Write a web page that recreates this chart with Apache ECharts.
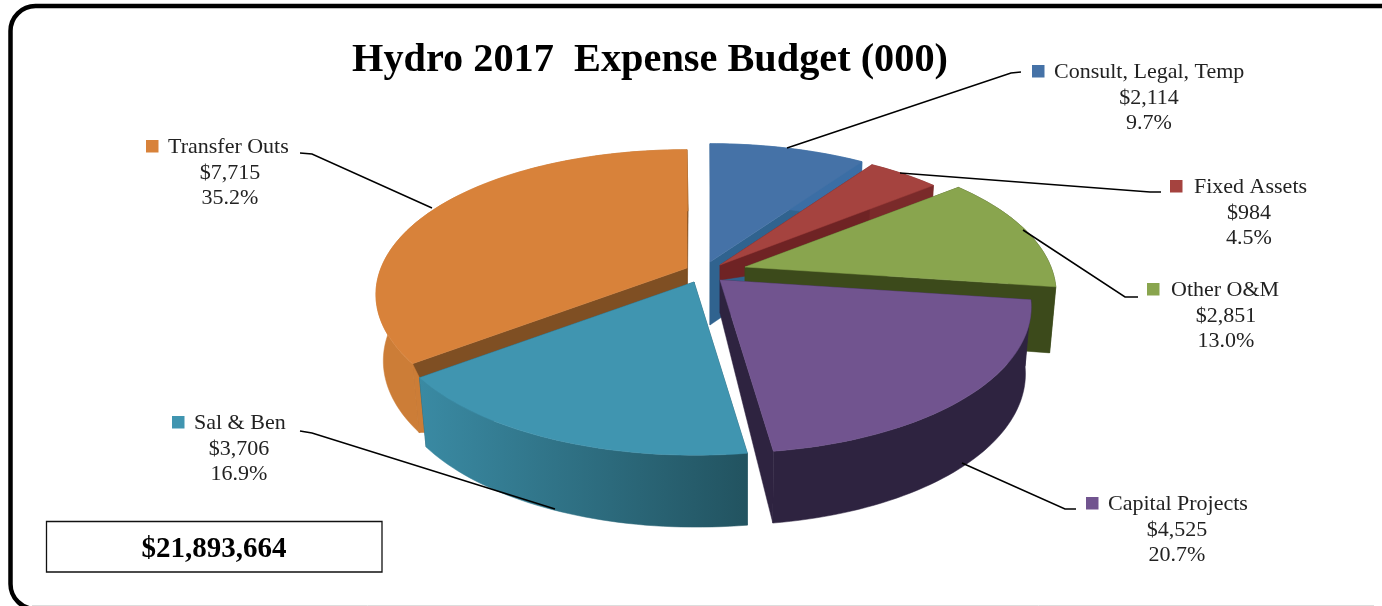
<!DOCTYPE html>
<html>
<head>
<meta charset="utf-8">
<style>html,body{margin:0;padding:0;background:#fff}#c{width:1382px;height:606px}</style>
<script src="https://cdn.jsdelivr.net/npm/echarts@6/dist/echarts.min.js"></script>
</head>
<body>
<div id="c"></div>
<script>
// ---- data ----
var titleText = 'Hydro 2017  Expense Budget (000)';
var totalText = '$21,893,664';
var categories = ['Consult, Legal, Temp', 'Fixed Assets', 'Other O&M', 'Capital Projects', 'Sal & Ben', 'Transfer Outs'];
var values = [2114, 984, 2851, 4525, 3706, 7715];
var percents = ['9.7%', '4.5%', '13.0%', '20.7%', '16.9%', '35.2%'];

// ---- styling & layout ----
var topColors = ['#4572a7', '#a5433f', '#89a54e', '#71548f', '#4095b0', '#d8823a'];
var cutColors = ['#30638f', '#6f2324', '#3c4a1b', '#2e2340', '#245563', '#7f4f23'];
var wallFrom  = ['#3b6ea5', '#7a2a2a', '#3c4a1b', '#2e2340', '#3a8aa3', '#cc7d37'];
var wallTo    = ['#3b6ea5', '#7a2a2a', '#3c4a1b', '#2e2340', '#225360', '#bd7431'];
var apexX = [710, 720, 745, 720, 694, 687];
var apexY = [262, 265, 267, 280, 282, 268];
var apexDrop = [63, 15, 63, 33, 63, 63];
var wallFlare = [0, 0, 0, 0, 0, 10];
var paintOrder = [0, 1, 2, 5, 4, 3];
var markerX = [1032, 1170, 1147, 1086, 172, 146];
var markerY = [65, 180, 283, 497, 416, 140];
var nameX = [1054, 1194, 1171, 1108, 194, 168];
var centerX = [1149, 1249, 1226, 1177, 239, 230];
var leaders = [
  [[787,148],[1011,73],[1021,72]],
  [[900,173],[1150,192],[1161,192]],
  [[1023,230],[1125,297],[1138,297]],
  [[962,463],[1065,509],[1076,509]],
  [[555,509],[312,433],[300,431]],
  [[432,208],[312,154],[300,153]]
];
var serif = '"Liberation Serif", serif';
var total = values.reduce(function (a, b) { return a + b; }, 0);
var startAngles = [];
values.reduce(function (acc, v, i) { startAngles[i] = acc; return acc + v; }, 0);

function rimPoint(i, t) {
  var ux = Math.sin(t), uy = -Math.cos(t), down = Math.max(uy, 0);
  var p = 0.19 - 0.01 * uy;
  return [apexX[i] + 306 * ux / (1 - 0.18 * uy) + 3 * (ux > 0 ? down * down : 0),
          apexY[i] + 142 * uy / (1 - p * uy)];
}
function lower(pt) {
  return [745 + (pt[0] - 745) * 0.98, pt[1] + 66 + (pt[1] - 285) * 0.035];
}
function renderSlice(params, api) {
  var i = api.value(0), v = api.value(1);
  var a0 = startAngles[i] / total * Math.PI * 2;
  var a1 = (startAngles[i] + v) / total * Math.PI * 2;
  var apex = [apexX[i], apexY[i]];
  var apexLow = [apexX[i], apexY[i] + apexDrop[i]];
  var rim = [], n = Math.max(8, Math.round((a1 - a0) * 40));
  for (var k = 0; k <= n; k++) rim.push(rimPoint(i, a0 + (a1 - a0) * k / n));
  var low = rim.map(lower);
  var first = rim[0], last = rim[n], lowFirst = low[0], flare = wallFlare[i];
  var wallFill = new echarts.graphic.LinearGradient(
    Math.min(first[0], last[0]), 0, Math.max(first[0], last[0]), 0,
    [{ offset: 0, color: wallFrom[i] }, { offset: 1, color: wallTo[i] }], true);
  function poly(points, fill) {
    return { type: 'polygon', shape: { points: points }, style: { fill: fill, stroke: fill, lineWidth: 0.5 } };
  }
  var kids = [
    poly([apex, first, lowFirst, apexLow], cutColors[i]),
    poly([apex, last, low[n], apexLow], cutColors[i]),
    poly(rim.concat(low.slice().reverse()), wallFill)
  ];
  if (flare) {
    kids.push(poly([first, [first[0] + flare, first[1] + 2 * flare], [lowFirst[0] + flare, lowFirst[1]], lowFirst], wallFrom[i]));
  }
  kids.push(poly([apex].concat(rim), topColors[i]));
  return { type: 'group', children: kids };
}

var graphics = [
  { type: 'rect', silent: true, z: 1, shape: { x: 10.5, y: 6, width: 1395, height: 603, r: 25 },
    style: { fill: '#fff', stroke: '#000', lineWidth: 4.5 } },
  { type: 'line', silent: true, z: 2, shape: { x1: 32, y1: 605.5, x2: 1374, y2: 605.5 },
    style: { stroke: '#dddddd', lineWidth: 1 } },
  { type: 'rect', silent: true, z: 20, shape: { x: 46.5, y: 521.5, width: 335.5, height: 50.5 },
    style: { fill: '#fff', stroke: '#111', lineWidth: 1.3 } },
  { type: 'text', silent: true, z: 21, x: 214, y: 549.5,
    style: { text: totalText, fill: '#000', font: 'bold 29px ' + serif, align: 'center', verticalAlign: 'middle' } }
];
categories.forEach(function (name, i) {
  graphics.push({ type: 'polyline', silent: true, z: 15, shape: { points: leaders[i] },
    style: { fill: 'none', stroke: '#000', lineWidth: 1.5 } });
  graphics.push({ type: 'rect', silent: true, z: 20, shape: { x: markerX[i], y: markerY[i], width: 12.5, height: 12.5 },
    style: { fill: topColors[i] } });
  graphics.push({ type: 'text', silent: true, z: 21, x: nameX[i], y: markerY[i] + 7.5,
    style: { text: name, fill: '#222', font: '22px ' + serif, align: 'left', verticalAlign: 'middle' } });
  graphics.push({ type: 'text', silent: true, z: 21, x: centerX[i], y: markerY[i] + 33.5,
    style: { text: '$' + values[i].toLocaleString('en-US'), fill: '#222', font: '22px ' + serif, align: 'center', verticalAlign: 'middle' } });
  graphics.push({ type: 'text', silent: true, z: 21, x: centerX[i], y: markerY[i] + 58.5,
    style: { text: percents[i], fill: '#222', font: '22px ' + serif, align: 'center', verticalAlign: 'middle' } });
});

var chart = echarts.init(document.getElementById('c'), null, { renderer: 'canvas' });
chart.setOption({
  animation: false,
  backgroundColor: '#fff',
  title: { text: titleText, left: 645, top: 36, textAlign: 'center', z: 30,
    textStyle: { fontFamily: serif, fontWeight: 'bold', fontSize: 40.3, color: '#000' } },
  graphic: { elements: graphics },
  series: [{
    type: 'custom', coordinateSystem: 'none', silent: true, z: 10, clip: false,
    renderItem: renderSlice,
    encode: { value: [1] },
    data: paintOrder.map(function (i) { return [i, values[i]]; })
  }]
});
</script>
</body>
</html>
